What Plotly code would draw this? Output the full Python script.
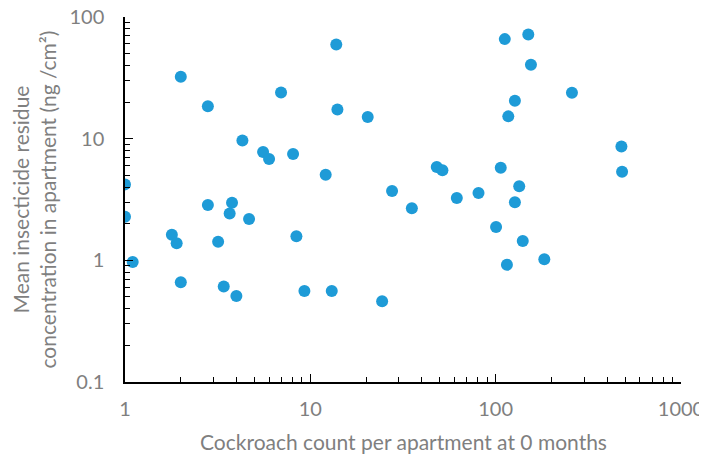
import plotly.graph_objects as go

# cockroach count per apartment at 0 months
cockroach_count = [
    1.0, 1.0, 1.1, 1.79, 1.9, 2.0, 2.0, 2.8, 2.8, 3.18,
    3.41, 3.67, 3.78, 3.99, 4.3, 4.67, 5.56, 5.99, 6.95, 8.07,
    8.41, 9.29, 12.1, 13.05, 13.8, 14.0, 20.4, 24.4, 27.6, 35.3,
    48.1, 51.6, 61.7, 80.8, 100.5, 106.5, 112, 115, 117, 127,
    127, 134, 140, 150, 155, 183, 258, 477, 481,
]

# mean insecticide residue (ng/cm2)
residue = [
    4.21, 2.28, 0.97, 1.62, 1.38, 32.3, 0.66, 18.5, 2.85, 1.42,
    0.61, 2.43, 2.97, 0.51, 9.68, 2.19, 7.76, 6.80, 24.0, 7.47,
    1.58, 0.56, 5.05, 0.56, 59.5, 17.4, 15.05, 0.46, 3.71, 2.68,
    5.84, 5.49, 3.25, 3.57, 1.88, 5.77, 65.8, 0.92, 15.25, 20.5,
    3.0, 4.06, 1.44, 71.9, 40.5, 1.02, 23.8, 8.64, 5.35,
]

x_ticks = [1, 10, 100, 1000]
y_ticks = [0.1, 1, 10, 100]
y_tick_text = ["0.1", "1", "10", "100"]

grey = "#7F7F7F"
font = "Lato, 'Open Sans', sans-serif"

fig = go.Figure(go.Scatter(
    x=cockroach_count, y=residue, mode="markers",
    marker=dict(size=12, color="#1E9BD7"),
))

axis_common = dict(
    type="log", showgrid=False, zeroline=False, automargin=False,
    showline=True, linecolor="black", linewidth=1.5,
    ticks="inside", ticklen=8, tickwidth=1.3, tickcolor="black",
    tickfont=dict(family=font, size=20, color=grey),
    ticklabeloverflow="allow",
    minor=dict(ticks="inside", ticklen=5, tickwidth=1.3, tickcolor="black",
               tickmode="linear", dtick="D1", showgrid=False),
)

fig.update_xaxes(range=[0, 3], tickvals=x_ticks,
                 ticktext=[str(v) for v in x_ticks],
                 ticklabelstandoff=8, **axis_common)
fig.update_yaxes(range=[-1, 2], tickvals=y_ticks, ticktext=y_tick_text,
                 ticklabelstandoff=15, **axis_common)

fig.add_annotation(
    text="Cockroach count per apartment at 0 months",
    xref="paper", yref="paper", x=0.5, y=0, yshift=-59,
    xanchor="center", yanchor="middle", showarrow=False,
    font=dict(family=font, size=21, color=grey),
)
fig.add_annotation(
    text="Mean insecticide residue<br>concentration in apartment (ng /cm²)",
    xref="paper", yref="paper", x=0, y=0.5, xshift=-92,
    xanchor="center", yanchor="middle", textangle=-90, showarrow=False,
    font=dict(family=font, size=21, color=grey),
)

# page body adds an 8px offset, so the figure is drawn 8px smaller
fig.update_layout(
    width=699, height=451,
    margin=dict(l=117, r=26, t=9, b=77),
    paper_bgcolor="white", plot_bgcolor="white",
    showlegend=False,
)

fig.write_html("out.html")
